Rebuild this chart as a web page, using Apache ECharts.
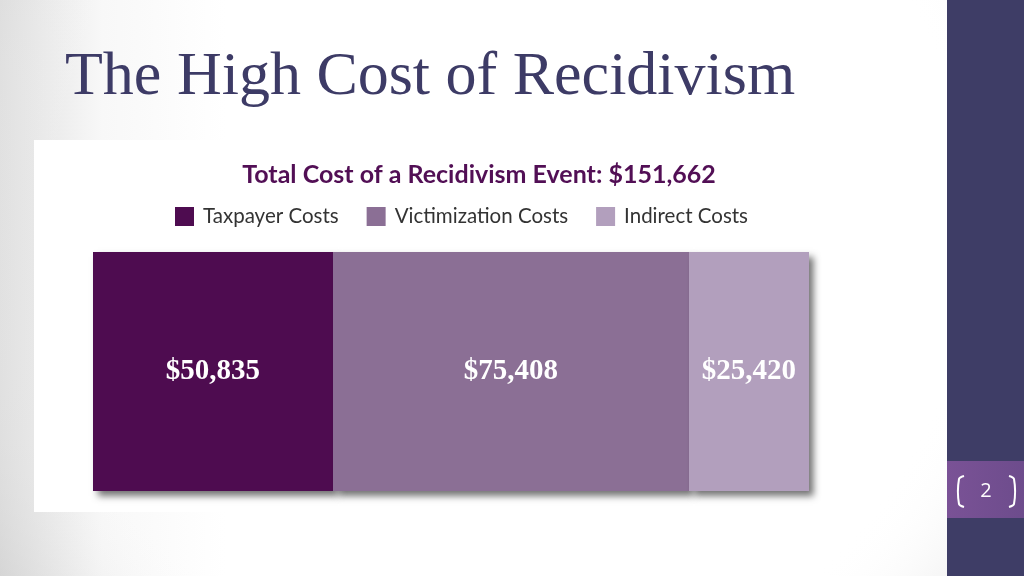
<!DOCTYPE html>
<html>
<head>
<meta charset="utf-8">
<script src="https://cdn.jsdelivr.net/npm/echarts@6/dist/echarts.min.js"></script>
<style>html,body{margin:0;padding:0;}#c{width:1024px;height:576px;}</style>
</head>
<body>
<div id="c"></div>
<script>
const categories = ['Taxpayer Costs', 'Victimization Costs', 'Indirect Costs'];
const values = [50835, 75408, 25420];
const totalCost = 151662;
const colors = ['#4e0c50', '#8b6f95', '#b29fbd'];

const chart = echarts.init(document.getElementById('c'));
const fmt = v => '$' + v.toLocaleString('en-US');

const series = categories.map((name, i) => ({
  name: name,
  type: 'bar',
  stack: 'total',
  barWidth: '100%',
  data: [values[i]],
  itemStyle: {
    color: colors[i],
    shadowColor: 'rgba(0,0,0,0.55)',
    shadowBlur: 7,
    shadowOffsetX: 5,
    shadowOffsetY: 5
  },
  label: {
    show: true,
    position: 'inside',
    formatter: p => fmt(p.value),
    color: '#ffffff',
    fontFamily: '"Liberation Serif", serif',
    fontWeight: 'bold',
    fontSize: 29
  }
}));

chart.setOption({
  animation: false,
  graphic: [
    { type: 'rect', z: -10, shape: { x: 0, y: 0, width: 1024, height: 576 },
      style: { fill: { type: 'linear', x: 0, y: 0, x2: 1, y2: 0,
        colorStops: [{ offset: 0, color: '#dedede' }, { offset: 0.1, color: '#f8f8f8' }, { offset: 0.22, color: '#ffffff' }, { offset: 1, color: '#ffffff' }] } } },
    { type: 'rect', z: -9, shape: { x: 0, y: 0, width: 1024, height: 576 },
      style: { fill: { type: 'radial', x: 0.5, y: 0.4, r: 1.1,
        colorStops: [{ offset: 0, color: 'rgba(255,255,255,0)' }, { offset: 0.72, color: 'rgba(255,255,255,0)' }, { offset: 1, color: 'rgba(200,200,200,0.55)' }] } } },
    { type: 'rect', z: -8, shape: { x: 34, y: 140, width: 800, height: 372 }, style: { fill: '#ffffff' } },
    { type: 'rect', z: 5, shape: { x: 947, y: 0, width: 77, height: 576 }, style: { fill: '#3e3d66' } },
    { type: 'rect', z: 6, shape: { x: 947, y: 461, width: 77, height: 57 },
      style: { fill: { type: 'linear', x: 0, y: 0, x2: 1, y2: 0,
        colorStops: [{ offset: 0, color: '#7a5296' }, { offset: 1, color: '#6d4c8c' }] } } },
    { type: 'text', z: 7, style: { text: '2', x: 986, y: 491, align: 'center', verticalAlign: 'middle',
      fill: '#ffffff', font: '20px "Open Sans"' } },
    { type: 'polyline', z: 7, shape: { points: [[964, 476], [959, 479], [959, 504], [964, 507]], smooth: 0.3 },
      style: { stroke: '#ffffff', lineWidth: 2, fill: 'none' } },
    { type: 'polyline', z: 7, shape: { points: [[1009, 476], [1014, 479], [1014, 504], [1009, 507]], smooth: 0.3 },
      style: { stroke: '#ffffff', lineWidth: 2, fill: 'none' } }
  ],
  title: [
    { text: 'The High Cost of Recidivism', left: 60, top: 42,
      textStyle: { fontFamily: 'Liberation Serif', fontWeight: 'normal', fontSize: 62, color: '#3d3b66' } },
    { text: 'Total Cost of a Recidivism Event: ' + fmt(totalCost), left: 474, top: 157, textAlign: 'center',
      textStyle: { fontFamily: 'Lato', fontWeight: 'bold', fontSize: 25, color: '#520f55' } }
  ],
  legend: {
    data: categories,
    left: 170,
    top: 201,
    itemWidth: 19,
    itemHeight: 19,
    itemGap: 28,
    icon: 'rect',
    textStyle: { fontFamily: 'Lato', fontSize: 20.5, color: '#333333', padding: [0, 0, 0, 4] }
  },
  grid: { left: 93, right: 215, top: 252, height: 239 },
  xAxis: { type: 'value', min: 0, max: totalCost, show: false },
  yAxis: { type: 'category', data: ['Total'], show: false },
  series: series
});
</script>
</body>
</html>
